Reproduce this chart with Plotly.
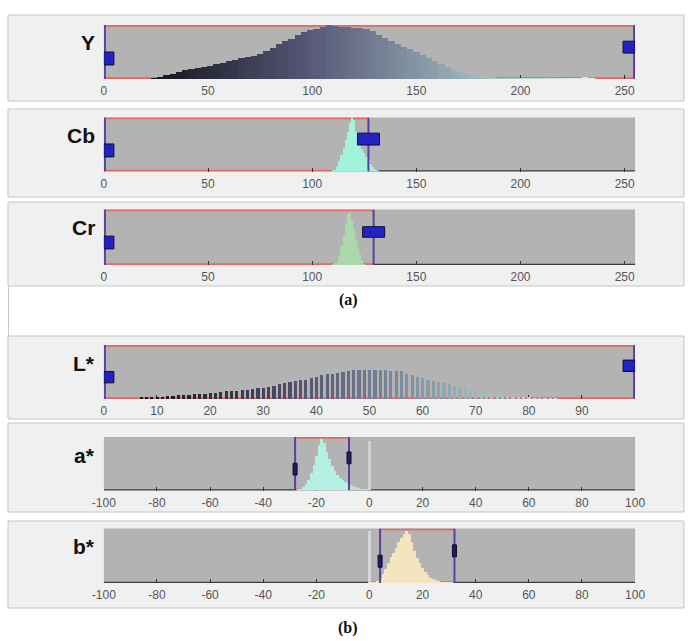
import plotly.graph_objects as go

W, H = 694, 641

# ---------------- data ----------------
y_bins = [24, 27, 30, 33, 36, 39, 42, 45, 48, 51, 54, 57, 60, 63, 66, 69, 72, 75, 78, 81,
          84, 87, 90, 93, 96, 99, 102, 105, 108, 111, 114, 117, 120, 123, 126, 129, 132, 135, 138, 141,
          144, 147, 150, 153, 156, 159, 162, 165, 168, 171, 174, 177, 180, 183, 186, 189, 192, 195, 198, 201,
          204, 207, 210, 213, 216, 219, 222, 225, 228, 231, 234]
y_vals = [0.005, 0.03, 0.07, 0.10, 0.13, 0.16, 0.18, 0.20, 0.22, 0.245, 0.27, 0.30, 0.33, 0.355, 0.38, 0.40, 0.43, 0.47, 0.52, 0.58,
          0.64, 0.70, 0.75, 0.82, 0.87, 0.91, 0.93, 0.96, 0.995, 0.99, 0.97, 0.96, 0.95, 0.95, 0.93, 0.88, 0.82, 0.76, 0.71, 0.65,
          0.60, 0.55, 0.50, 0.45, 0.39, 0.33, 0.27, 0.22, 0.17, 0.13, 0.09, 0.06, 0.04, 0.03, 0.02, 0.013, 0.01, 0.008, 0.006, 0.005,
          0.004, 0.003, 0.003, 0.003, 0.003, 0.003, 0.003, 0.003, 0.004, 0.03, 0.012]

cb_bins = list(range(110, 133))
cb_vals = [0.02, 0.04, 0.10, 0.20, 0.32, 0.45, 0.60, 0.75, 0.90, 1.0, 0.97, 0.75, 0.62, 0.52, 0.43, 0.35,
           0.28, 0.22, 0.15, 0.10, 0.06, 0.03, 0.015]

cr_bins = list(range(110, 126))
cr_vals = [0.01, 0.04, 0.05, 0.18, 0.35, 0.55, 0.75, 0.92, 0.96, 0.80, 0.65, 0.48, 0.33, 0.20, 0.10, 0.03]

l_bins = list(range(7, 86))
l_vals = [0.02, 0.03, 0.03, 0.045, 0.04, 0.055, 0.06, 0.07, 0.07, 0.08, 0.085, 0.09, 0.10, 0.11, 0.12, 0.13,
          0.14, 0.15, 0.155, 0.165, 0.17, 0.185, 0.20, 0.21, 0.23, 0.25, 0.27, 0.29, 0.31, 0.33, 0.345, 0.36,
          0.39, 0.41, 0.44, 0.46, 0.47, 0.49, 0.50, 0.52, 0.54, 0.54, 0.54, 0.54, 0.54, 0.54, 0.54, 0.52,
          0.52, 0.51, 0.47, 0.44, 0.41, 0.38, 0.36, 0.34, 0.31, 0.29, 0.27, 0.25, 0.22, 0.20, 0.17, 0.15,
          0.12, 0.10, 0.085, 0.07, 0.055, 0.045, 0.035, 0.025, 0.02, 0.02, 0.015, 0.015, 0.01, 0.01, 0.008]

a_bins = list(range(-27, 0))
a_vals = [0.01, 0.03, 0.06, 0.12, 0.20, 0.32, 0.48, 0.65, 0.85, 0.97, 0.88, 0.72, 0.58, 0.46, 0.37, 0.29,
          0.23, 0.19, 0.15, 0.12, 0.10, 0.08, 0.06, 0.045, 0.03, 0.02, 0.01]

b_bins = list(range(1, 32))
b_vals = [0.02, 0.03, 0.05, 0.10, 0.17, 0.26, 0.38, 0.48, 0.56, 0.66, 0.76, 0.84, 0.91, 0.97, 0.90, 0.76,
          0.60, 0.47, 0.37, 0.28, 0.21, 0.15, 0.11, 0.08, 0.06, 0.045, 0.035, 0.025, 0.02, 0.015, 0.01]

zero_spike_a = 0.93
zero_spike_b = 0.96

ycc_ticks = [0, 50, 100, 150, 200, 250]
l_ticks = [0, 10, 20, 30, 40, 50, 60, 70, 80, 90]
ab_ticks = [-100, -80, -60, -40, -20, 0, 20, 40, 60, 80, 100]

box_Y = (0, 255)
box_Cb = (0, 127)
box_Cr = (0, 129.5)
box_L = (0, 100)
box_a = (-28, -7.7)
box_b = (4, 32)

bone = [[0.0, '#000000'], [0.375, '#545474'], [0.75, '#a7c7c7'], [1.0, '#ffffff']]

# rendered figure occupies screen x in [11, 684]; map screen px -> paper fraction
X_OFF, X_SPAN = 11.0, 673.0


def sx(p):
    return (p - X_OFF) / X_SPAN


def py(p):
    return 1 - p / H


X_DOM = [sx(103), sx(635)]

panels = [
    dict(label='Y', xr=[0, 255], ticks=ycc_ticks, top=25, bot=79, ftop=15, fbot=101, box=box_Y,
         handles=[(0, 0, 10, 0.26, 0.50, 'big'), (255, -12, 0, 0.48, 0.70, 'big')]),
    dict(label='Cb', xr=[0, 255], ticks=ycc_ticks, top=117.5, bot=171.5, ftop=109, fbot=197, box=box_Cb,
         handles=[(0, 0, 10, 0.27, 0.51, 'big'), (127, -11, 11, 0.49, 0.71, 'big')]),
    dict(label='Cr', xr=[0, 255], ticks=ycc_ticks, top=209.5, bot=265, ftop=202, fbot=286, box=box_Cr,
         handles=[(0, 0, 10, 0.29, 0.52, 'big'), (129.5, -11, 11, 0.50, 0.69, 'big')]),
    dict(label='L*', xr=[0, 100], ticks=l_ticks, top=345, bot=399, ftop=336, fbot=419, box=box_L,
         handles=[(0, 0, 10, 0.30, 0.51, 'big'), (100, -12, 0, 0.51, 0.72, 'big')]),
    dict(label='a*', xr=[-100, 100], ticks=ab_ticks, top=437, bot=490.5, ftop=423, fbot=512, box=box_a,
         handles=[(-28, -2, 2, 0.29, 0.51, 'thin'), (-7.7, -2, 2, 0.50, 0.72, 'thin')]),
    dict(label='b*', xr=[-100, 100], ticks=ab_ticks, top=528.5, bot=583, ftop=521, fbot=608, box=box_b,
         handles=[(4, -2, 2, 0.29, 0.51, 'thin'), (32, -2, 2, 0.48, 0.70, 'thin')]),
]

fig = go.Figure()
shapes = []
annotations = []
layout = dict(width=W, height=H, margin=dict(l=0, r=0, t=0, b=0, pad=0),
              paper_bgcolor='white', plot_bgcolor='#b3b3b3', showlegend=False,
              bargap=0, barmode='overlay')

for i, p in enumerate(panels, start=1):
    xa = 'x' if i == 1 else f'x{i}'
    ya = 'y' if i == 1 else f'y{i}'
    xk = 'xaxis' if i == 1 else f'xaxis{i}'
    yk = 'yaxis' if i == 1 else f'yaxis{i}'
    layout[xk] = dict(domain=X_DOM, range=p['xr'], anchor=ya, tickmode='array',
                      tickvals=p['ticks'], ticktext=[str(t) for t in p['ticks']],
                      ticks='inside', ticklen=4, tickcolor='#333333', tickwidth=1,
                      ticklabelstandoff=3,
                      tickfont=dict(family='Liberation Sans, Arial', size=12, color='#555555'),
                      showgrid=False, zeroline=False, showline=False, layer='below traces',
                      fixedrange=True)
    layout[yk] = dict(domain=[py(p['bot']), py(p['top'])], range=[0, 1], anchor=xa,
                      visible=False, fixedrange=True)
    # panel frame
    shapes.append(dict(type='rect', xref='paper', yref='paper', x0=sx(7), x1=1.0,
                       y0=py(p['fbot']), y1=py(p['ftop']), fillcolor='#f0f0f0',
                       line=dict(color='#c6c6c6', width=1), layer='below'))
    # plot area background
    shapes.append(dict(type='rect', xref=f'{xa} domain', yref=f'{ya} domain', x0=0, x1=1,
                       y0=0, y1=1, fillcolor='#b3b3b3', line=dict(width=0), layer='below'))
    annotations.append(dict(text=f"<b>{p['label']}</b>", xref='paper', yref='paper',
                            x=sx(96), y=py(p['top'] + 18), xanchor='right', yanchor='middle',
                            showarrow=False,
                            font=dict(family='Liberation Sans, Arial', size=21, color='#111111')))
    b0, b1 = p['box']
    for s0, s1 in [(p['xr'][0], b0), (b1, p['xr'][1])]:
        if s1 - s0 > 0.5:
            shapes.append(dict(type='line', xref=xa, yref=ya, x0=s0, x1=s1, y0=0.01, y1=0.01,
                               line=dict(color='#3a3a3a', width=1.5), layer='below'))
    for yy in (0.985, 0.015):
        shapes.append(dict(type='line', xref=xa, yref=ya, x0=b0, x1=b1, y0=yy, y1=yy,
                           line=dict(color='rgba(232,96,96,0.9)', width=2), layer='below'))
    for xx in (b0, b1):
        off = 1 if xx == p['xr'][0] else (-1 if xx == p['xr'][1] else 0)
        shapes.append(dict(type='line', xref=xa, yref=ya, xsizemode='pixel', xanchor=xx,
                           x0=off, x1=off, y0=0, y1=1, line=dict(color='#5b3f9c', width=2), layer='above'))
    for (hx, dx0, dx1, hy0, hy1, kind) in p['handles']:
        fill = '#2323c4' if kind == 'big' else '#1e1e66'
        shapes.append(dict(type='rect', xref=xa, yref=ya, xsizemode='pixel', xanchor=hx,
                           x0=dx0, x1=dx1, y0=hy0, y1=hy1, fillcolor=fill,
                           line=dict(color='#0c0c30', width=1), layer='above'))

fig.add_trace(go.Bar(x=y_bins, y=y_vals, width=3, xaxis='x', yaxis='y',
                     marker=dict(color=y_bins, colorscale=bone, cmin=0, cmax=255, line=dict(width=0))))
fig.add_trace(go.Bar(x=cb_bins, y=cb_vals, width=1, xaxis='x2', yaxis='y2',
                     marker=dict(color='#a2f2dc', line=dict(width=0))))
fig.add_trace(go.Bar(x=cr_bins, y=cr_vals, width=1, xaxis='x3', yaxis='y3',
                     marker=dict(color='#acd8ac', line=dict(width=0))))
fig.add_trace(go.Bar(x=l_bins, y=l_vals, width=0.6, xaxis='x4', yaxis='y4',
                     marker=dict(color=l_bins, colorscale=bone, cmin=0, cmax=100, line=dict(width=0))))
fig.add_trace(go.Bar(x=[0], y=[zero_spike_a], width=1.4, xaxis='x5', yaxis='y5',
                     marker=dict(color='#d2d2d2', line=dict(width=0))))
fig.add_trace(go.Bar(x=a_bins, y=a_vals, width=1, xaxis='x5', yaxis='y5',
                     marker=dict(color=['#b4f0e2' if v < box_a[1] else '#c6dcd8' for v in a_bins],
                                 line=dict(width=0))))
fig.add_trace(go.Bar(x=[0], y=[zero_spike_b], width=1.4, xaxis='x6', yaxis='y6',
                     marker=dict(color='#d6d6d6', line=dict(width=0))))
fig.add_trace(go.Bar(x=b_bins, y=b_vals, width=1, xaxis='x6', yaxis='y6',
                     marker=dict(color='#f5e4c0', line=dict(width=0))))

shapes.append(dict(type='line', xref='paper', yref='paper', x0=sx(7.5), x1=sx(7.5),
                   y0=py(336), y1=py(286), line=dict(color='#c6c6c6', width=1), layer='below'))

for txt, yp in (('(a)', 300), ('(b)', 628)):
    annotations.append(dict(text=f'<b>{txt}</b>', xref='paper', yref='paper', x=sx(348), y=py(yp),
                            xanchor='center', yanchor='middle', showarrow=False,
                            font=dict(family='Liberation Serif, Times New Roman', size=16, color='#111111')))

layout['shapes'] = shapes
layout['annotations'] = annotations
fig.update_layout(**layout)
fig.write_html('out.html')
